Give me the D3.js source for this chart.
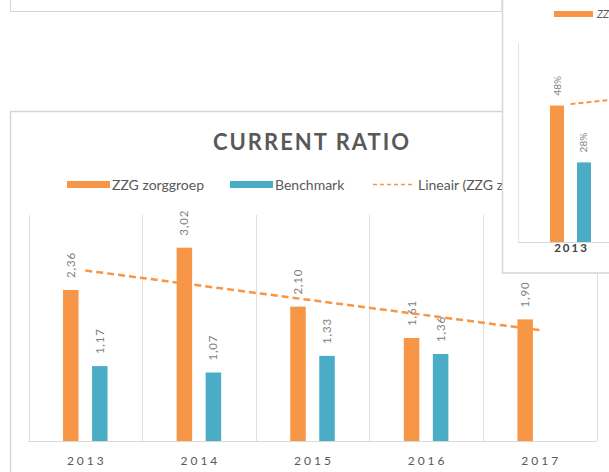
<!DOCTYPE html>
<html>
<head>
<meta charset="utf-8">
<script src="https://cdn.jsdelivr.net/npm/d3@7"></script>
<style>
  html, body { margin: 0; padding: 0; background: #fff; }
  svg { display: block; font-family: Lato, "Open Sans", sans-serif; }
</style>
</head>
<body>
<svg id="chart" width="609" height="472"></svg>
<script>
// ---- Data (main chart) ----
const categories = ["2013", "2014", "2015", "2016", "2017"];
const zzgValues = [2.36, 3.02, 2.10, 1.61, 1.90];
const benchValues = [1.17, 1.07, 1.33, 1.36, null];
const seriesNames = ["ZZG zorggroep", "Benchmark", "Lineair (ZZG zorggroep)"];
const chartTitle = "CURRENT RATIO";

// ---- Data (partially visible inset chart at the right) ----
const insetCategories = ["2013"];
const insetZzg = [48];
const insetBench = [28];
const insetTrend = [48.5, 52.5];
const insetLegend = ["ZZG zorggroep"];

const ORANGE = "#F79646";
const BLUE = "#4BACC6";
const GRID = "#dedede";
const TEXT = "#595959";
const LABEL = "#7f7f7f";

const svg = d3.select("#chart");
const fmt = v => d3.format(".2f")(v).replace(".", ",");

// ---- Background panels ----
svg.append("rect").attr("x", 10.5).attr("y", -20).attr("width", 491.5).attr("height", 31.5)
  .attr("fill", "#fff").attr("stroke", "#d6d6d6");
svg.append("rect").attr("x", 10.5).attr("y", 111.5).attr("width", 700).attr("height", 420)
  .attr("fill", "#fff").attr("stroke", "#d6d6d6").attr("stroke-width", 1.5);

// ---- Main chart ----
const main = svg.append("g");
const x = d3.scaleBand().domain(categories).range([28.5, 596.5]);
const bw = x.bandwidth();
const x1 = d3.scaleBand().domain(["zzg", "bench"]).range([bw * 0.304, bw * 0.696]).paddingInner(0.4655);
const y = d3.scaleLinear().domain([0, 3.5]).range([441, 217]);

// vertical category separators
const bounds = categories.map(c => x(c)).concat([x(categories[categories.length - 1]) + bw]);
main.append("g").selectAll("line").data(bounds).join("line")
  .attr("x1", d => Math.round(d) + 0.5).attr("x2", d => Math.round(d) + 0.5)
  .attr("y1", y(3.5) - 2).attr("y2", y(0))
  .attr("stroke", GRID).attr("stroke-width", 1);

// baseline
main.append("line").attr("x1", x.range()[0]).attr("x2", x.range()[1])
  .attr("y1", y(0) + 0.5).attr("y2", y(0) + 0.5).attr("stroke", "#d9d9d9");

const rows = categories.map((c, i) => ({ c, zzg: zzgValues[i], bench: benchValues[i] }));

// bars
const groups = main.append("g").selectAll("g").data(rows).join("g")
  .attr("transform", d => `translate(${x(d.c)},0)`);
groups.append("rect")
  .attr("x", x1("zzg")).attr("width", x1.bandwidth())
  .attr("y", d => y(d.zzg)).attr("height", d => y(0) - y(d.zzg))
  .attr("fill", ORANGE);
groups.filter(d => d.bench != null).append("rect")
  .attr("x", x1("bench")).attr("width", x1.bandwidth())
  .attr("y", d => y(d.bench)).attr("height", d => y(0) - y(d.bench))
  .attr("fill", BLUE);

// data labels (rotated)
function addLabel(sel, key) {
  sel.append("text")
    .attr("transform", d => `translate(${x1(key) + x1.bandwidth() / 2},${y(d[key]) - 12}) rotate(-90)`)
    .attr("dy", "0.35em")
    .attr("text-anchor", "start")
    .attr("font-size", 11.5)
    .attr("letter-spacing", 0.8)
    .attr("fill", LABEL)
    .text(d => fmt(d[key]));
}
addLabel(groups, "zzg");
addLabel(groups.filter(d => d.bench != null), "bench");

// linear trendline (least squares on ZZG values)
const n = zzgValues.length;
const mx = d3.mean(d3.range(n));
const my = d3.mean(zzgValues);
const slope = d3.sum(zzgValues, (v, i) => (i - mx) * (v - my)) / d3.sum(d3.range(n), i => (i - mx) * (i - mx));
const intercept = my - slope * mx;
const trendPts = [0, n - 1].map(i => ({ c: categories[i], v: intercept + slope * i }));
main.append("path")
  .datum(trendPts)
  .attr("d", d3.line().x(d => x(d.c) + bw / 2).y(d => y(d.v)))
  .attr("fill", "none").attr("stroke", ORANGE).attr("stroke-width", 2.5)
  .attr("stroke-dasharray", "7,4");

// category axis
const xAxis = main.append("g").attr("transform", `translate(0,${y(0)})`)
  .call(d3.axisBottom(x).tickSize(0).tickPadding(15));
xAxis.select(".domain").remove();
xAxis.selectAll("text")
  .attr("font-family", "Lato, 'Open Sans', sans-serif")
  .attr("font-size", 12).attr("letter-spacing", 3).attr("fill", TEXT)
  .attr("dx", 1.5);

// title
main.append("text").attr("x", 312).attr("y", 150).attr("text-anchor", "middle")
  .attr("font-size", 22).attr("font-weight", "bold").attr("letter-spacing", 2)
  .attr("fill", TEXT).text(chartTitle);

// legend
const legend = main.append("g").attr("font-size", 14).attr("fill", TEXT);
const legendItems = [
  { name: seriesNames[0], type: "bar", color: ORANGE, x: 67 },
  { name: seriesNames[1], type: "bar", color: BLUE, x: 230 },
  { name: seriesNames[2], type: "line", color: ORANGE, x: 373 }
];
legendItems.forEach(it => {
  if (it.type === "bar") {
    legend.append("rect").attr("x", it.x).attr("y", 181).attr("width", 43).attr("height", 7).attr("fill", it.color);
  } else {
    legend.append("line").attr("x1", it.x).attr("x2", it.x + 42).attr("y1", 184.5).attr("y2", 184.5)
      .attr("stroke", it.color).attr("stroke-width", 1.5).attr("stroke-dasharray", "4,3");
  }
  legend.append("text").attr("x", it.x + 45).attr("y", 189.5).text(it.name);
});

// ---- Inset panel (overlapping, right side) ----
svg.append("rect").attr("x", 502.5).attr("y", -20).attr("width", 200).attr("height", 293)
  .attr("fill", "#fff").attr("stroke", "#d6d6d6").attr("stroke-width", 1.5);
const inset = svg.append("g");
const ix = d3.scaleBand().domain(insetCategories).range([518, 623]);
const ibw = ix.bandwidth();
const ix1 = d3.scaleBand().domain(["zzg", "bench"]).range([ibw * 0.305, ibw * 0.695]).paddingInner(0.4815);
const iy = d3.scaleLinear().domain([0, 70]).range([242, 43]);

inset.append("line").attr("x1", 518.5).attr("x2", 518.5).attr("y1", iy(70)).attr("y2", iy(0))
  .attr("stroke", "#e3e3e3");
inset.append("line").attr("x1", 518).attr("x2", 640).attr("y1", iy(0) + 0.5).attr("y2", iy(0) + 0.5)
  .attr("stroke", "#d9d9d9");

const irows = insetCategories.map((c, i) => ({ c, zzg: insetZzg[i], bench: insetBench[i] }));
const ig = inset.append("g").selectAll("g").data(irows).join("g")
  .attr("transform", d => `translate(${ix(d.c)},0)`);
[["zzg", ORANGE], ["bench", BLUE]].forEach(([k, col]) => {
  ig.append("rect").attr("x", ix1(k)).attr("width", ix1.bandwidth())
    .attr("y", d => iy(d[k])).attr("height", d => iy(0) - iy(d[k])).attr("fill", col);
  ig.append("text")
    .attr("transform", d => `translate(${ix1(k) + ix1.bandwidth() / 2},${iy(d[k]) - 10}) rotate(-90)`)
    .attr("dy", "0.35em").attr("font-size", 10).attr("fill", LABEL)
    .text(d => d[k] + "%");
});

inset.append("path")
  .datum(insetTrend.map((v, i) => ({ i, v })))
  .attr("d", d3.line().x(d => ix(insetCategories[0]) + ibw / 2 + d.i * ibw).y(d => iy(d.v)))
  .attr("fill", "none").attr("stroke", ORANGE).attr("stroke-width", 2)
  .attr("stroke-dasharray", "5,3");

const ixAxis = inset.append("g").attr("transform", `translate(0,${iy(0)})`)
  .call(d3.axisBottom(ix).tickSize(0).tickPadding(2));
ixAxis.select(".domain").remove();
ixAxis.selectAll("text")
  .attr("font-family", "Lato, 'Open Sans', sans-serif")
  .attr("font-size", 11.5).attr("font-weight", "bold").attr("letter-spacing", 2)
  .attr("fill", "#404040").attr("dx", 1);

inset.append("rect").attr("x", 554).attr("y", 11).attr("width", 39).attr("height", 6).attr("fill", ORANGE);
inset.append("text").attr("x", 597).attr("y", 18).attr("font-size", 11).attr("font-style", "italic")
  .attr("fill", TEXT).text(insetLegend[0]);
</script>
</body>
</html>
